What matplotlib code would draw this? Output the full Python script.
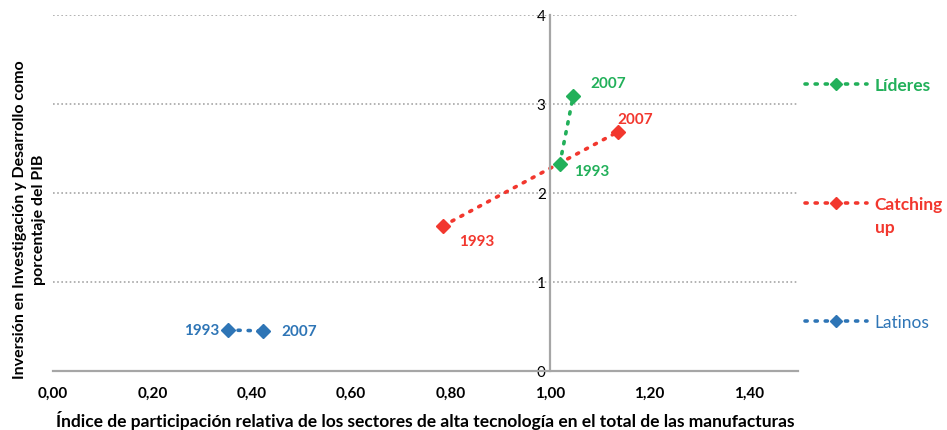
import matplotlib.pyplot as plt
from matplotlib.lines import Line2D
from matplotlib.ticker import FuncFormatter

plt.rcParams['font.family'] = ['Lato', 'DejaVu Sans']

# data: relative participation index (x) vs R&D % of GDP (y)
series = ['Líderes', 'Catching', 'Latinos']
years = ['1993', '2007']
lideres_x = [1.02, 1.047]
lideres_y = [2.33, 3.09]
catching_x = [0.785, 1.138]
catching_y = [1.63, 2.69]
latinos_x = [0.352, 0.423]
latinos_y = [0.46, 0.45]

green = '#22B05A'
red = '#F2372E'
blue = '#2E75B6'

fig = plt.figure(figsize=(9.47, 4.31), dpi=100)
ax = fig.add_axes([0.056, 0.137, 0.787, 0.826])

dots = dict(linestyle=(0, (0.6, 2.2)), dash_capstyle='round', linewidth=2.6,
            marker='D', markersize=7)
ax.plot(catching_x, catching_y, color=red, **dots)
ax.plot(lideres_x, lideres_y, color=green, **dots)
ax.plot(latinos_x, latinos_y, color=blue, **dots)

lbl = dict(textcoords='offset points', fontsize=11, fontweight='bold',
           ha='center', va='center')
ax.annotate(years[0], (lideres_x[0], lideres_y[0]), xytext=(23, -5), color=green, **lbl)
ax.annotate(years[1], (lideres_x[1], lideres_y[1]), xytext=(25, 9), color=green, **lbl)
ax.annotate(years[0], (catching_x[0], catching_y[0]), xytext=(24, -11), color=red, **lbl)
ax.annotate(years[1], (catching_x[1], catching_y[1]), xytext=(12, 9), color=red, **lbl)
ax.annotate(years[0], (latinos_x[0], latinos_y[0]), xytext=(-19, 0), color=blue, **lbl)
ax.annotate(years[1], (latinos_x[1], latinos_y[1]), xytext=(26, 0), color=blue, **lbl)

ax.set_xlim(0, 1.5)
ax.set_ylim(0, 4)
ax.set_xticks([0, 0.2, 0.4, 0.6, 0.8, 1.0, 1.2, 1.4])
ax.set_yticks([0, 1, 2, 3, 4])
ax.xaxis.set_major_formatter(FuncFormatter(lambda v, p: f'{v:.2f}'.replace('.', ',')))
ax.tick_params(axis='both', length=0, labelsize=11)
ax.tick_params(axis='x', pad=11)
ax.tick_params(axis='y', pad=3)
for t in ax.get_xticklabels() + ax.get_yticklabels():
    t.set_fontweight('bold')

# y axis crosses at x = 1
ax.spines['left'].set_position(('data', 1.0))
for s in ['top', 'right']:
    ax.spines[s].set_visible(False)
for s in ['left', 'bottom']:
    ax.spines[s].set_color('#A6A6A6')
    ax.spines[s].set_linewidth(1.6)
ax.yaxis.grid(True, linestyle=(0, (1, 1.5)), color='#A6A6A6', linewidth=1.2)
ax.set_axisbelow(True)

ax.set_xlabel('Índice de participación relativa de los sectores de alta tecnología en el total de las manufacturas',
              fontsize=12.5, fontweight='bold', labelpad=7)
fig.text(0.031, 0.49, 'Inversión en Investigación y Desarrollo como\nporcentaje del PIB',
         rotation=90, ha='center', va='center', fontsize=11.5, fontweight='bold',
         linespacing=1.5)

# legend entries at separate heights on the right
colors = [green, red, blue]
weights = ['bold', 'bold', 'normal']
ypos = [0.80, 0.524, 0.25]
for name, c, w, yy in zip(series, colors, weights, ypos):
    h = Line2D([], [], color=c, linestyle=(0, (0.6, 2.2)), dash_capstyle='round',
               linewidth=2.6, marker='D', markersize=6)
    leg = fig.legend([h], [name], loc='center left', bbox_to_anchor=(0.850, yy),
                     frameon=False, handlelength=3.6, handletextpad=0.4,
                     borderpad=0, borderaxespad=0, prop={'size': 12.5, 'weight': w})
    for t in leg.get_texts():
        t.set_color(c)
# second line of "Catching up"
fig.text(0.924, 0.471, 'up', color=red, fontsize=12.5, fontweight='bold',
         ha='left', va='center')

fig.savefig('out.png', dpi=100)
